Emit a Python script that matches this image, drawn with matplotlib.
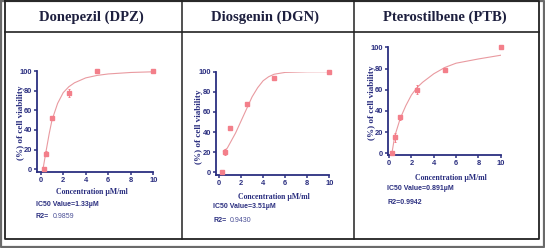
import matplotlib
matplotlib.use('Agg')
import matplotlib.pyplot as plt

# measured points (concentration uM/ml, % cell viability, error)
conc = [0.25, 0.5, 1, 2.5, 5, 10]

dpz_y = [0, 16, 52, 78, 100, 99.5]
dpz_err = [0.5, 3, 2, 4, 1, 1.2]
dgn_y = [0, 20, 44, 68, 94, 100]
dgn_err = [0.5, 3, 1, 1.5, 2, 1]
ptb_y = [0, 15, 34, 60, 79, 100]
ptb_err = [0.5, 4, 2.5, 4, 1.5, 2]

# fitted curves
dpz_fit_x = [0.2, 0.5, 0.75, 1.0, 1.5, 2.0, 2.5, 3, 4, 5, 6, 8, 10]
dpz_fit_y = [0, 20, 36, 50, 67, 78, 84, 88, 93, 95.5, 97, 98.5, 99.2]
dgn_fit_x = [0.4, 0.75, 1.0, 1.5, 2.0, 2.5, 3.0, 3.5, 4.0, 4.5, 5, 6, 8, 10]
dgn_fit_y = [21, 24, 29, 39, 51, 63, 75, 84, 91, 95, 97.5, 99.3, 99.9, 100]
ptb_fit_x = [0.25, 0.5, 1, 1.5, 2, 2.5, 3, 4, 5, 6, 8, 10]
ptb_fit_y = [0, 16, 33, 45, 55, 62, 67, 75, 81, 85, 89, 92.5]

titles = ['Donepezil (DPZ)', 'Diosgenin (DGN)', 'Pterostilbene (PTB)']
ic50_text = ['IC50 Value=1.33\u00b5M', 'IC50 Value=3.51\u00b5M', 'IC50 Value=0.891\u00b5M']
r2_text = ['0.9859', '0.9430', '0.9942']

W, H = 545, 248
NAVY = '#2b2f80'
RED = '#f37f8a'
LINE = '#e99aa0'
SANS = ['Liberation Sans Narrow', 'Liberation Sans', 'DejaVu Sans']
SERIF = ['Liberation Serif', 'DejaVu Serif']

fig = plt.figure(figsize=(W / 100, H / 100), dpi=100)

# background axes in pixel coords for the table frame and titles
bg = fig.add_axes([0, 0, 1, 1])
bg.set_xlim(0, W)
bg.set_ylim(H, 0)
bg.axis('off')
bg.plot([0.8, W - 1.5, W - 1.5, 0.8, 0.8], [0.8, 0.8, H - 1.5, H - 1.5, 0.8], color='#6a6a6a', lw=1.6)
bg.plot([4.5, 539, 539, 4.5, 4.5], [1.2, 1.2, 239, 239, 1.2], color='#222222', lw=1.3)
bg.plot([4.5, 539], [32, 32], color='#222222', lw=1.2)
bg.plot([182, 182], [1.2, 239], color='#222222', lw=1.1)
bg.plot([354, 354], [1.2, 239], color='#222222', lw=1.1)

title_x = [91, 265, 445]
for tx, t in zip(title_x, titles):
    bg.text(tx, 17, t, ha='center', va='center', fontsize=10.5, fontweight='bold',
            family=SERIF, color='#1d1f3e')

# axes boxes in pixels: left spine, x=10 pos, top (y=100), bottom spine
boxes = [(37, 153.3, 71, 171.7), (215.7, 329.3, 71.7, 175), (388, 500.7, 47.3, 155)]
xlims = [(-0.33, 10), (-0.3, 10), (-0.1, 10)]
ylims = [(-2.5, 100), (-2.7, 100), (-1.6, 100)]
ylab_pos = [(21, 123), (199, 127), (372, 103)]
xlab_pos = [(92, 192), (274, 197), (451, 178)]
ic_pos = [(36, 204, 216), (213, 207, 220), (387, 189, 202)]

ys = [dpz_y, dgn_y, ptb_y]
errs = [dpz_err, dgn_err, ptb_err]
fits = [(dpz_fit_x, dpz_fit_y), (dgn_fit_x, dgn_fit_y), (ptb_fit_x, ptb_fit_y)]

for i in range(3):
    l, r, t, b = boxes[i]
    ax = fig.add_axes([l / W, 1 - b / H, (r - l) / W, (b - t) / H])
    ax.plot(fits[i][0], fits[i][1], color=LINE, lw=0.8, zorder=2)
    ax.errorbar(conc, ys[i], yerr=errs[i], fmt='s', ms=3.2, color=RED, ecolor=RED,
                elinewidth=0.7, capsize=1, capthick=0.7, zorder=3, clip_on=False)
    ax.set_xlim(*xlims[i])
    ax.set_ylim(*ylims[i])
    ax.set_xticks([0, 2, 4, 6, 8, 10])
    ax.set_yticks([0, 20, 40, 60, 80, 100])
    ax.set_facecolor('none')
    for s in ['top', 'right']:
        ax.spines[s].set_visible(False)
    for s in ['left', 'bottom']:
        ax.spines[s].set_color(NAVY)
        ax.spines[s].set_linewidth(1.3)
    ax.tick_params(colors=NAVY, length=2.5, width=1.1, pad=1)
    for lab in ax.get_xticklabels() + ax.get_yticklabels():
        lab.set_fontsize(5.4)
        lab.set_fontweight('bold')
        lab.set_family(SANS)

    bg.text(*ylab_pos[i], '(%) of cell viability', rotation=90, ha='center', va='center',
            fontsize=6.6, fontweight='bold', family=SERIF, color=NAVY)
    bg.text(*xlab_pos[i], 'Concentration \u00b5M/ml', ha='center', va='center',
            fontsize=5.6, fontweight='bold', family=SERIF, color=NAVY)
    x0, y1, y2 = ic_pos[i]
    bg.text(x0, y1, ic50_text[i], ha='left', va='center', fontsize=5,
            fontweight='bold', family=SANS, color=NAVY)
    if i == 2:
        bg.text(x0, y2, 'R2=' + r2_text[i], ha='left', va='center', fontsize=5,
                fontweight='bold', family=SANS, color=NAVY)
    else:
        bg.text(x0, y2, 'R2=', ha='left', va='center', fontsize=5,
                fontweight='bold', family=SANS, color=NAVY)
        bg.text(x0 + 17, y2, r2_text[i], ha='left', va='center', fontsize=5,
                family=SANS, color='#4a4f96')

fig.savefig('out.png', dpi=100)
